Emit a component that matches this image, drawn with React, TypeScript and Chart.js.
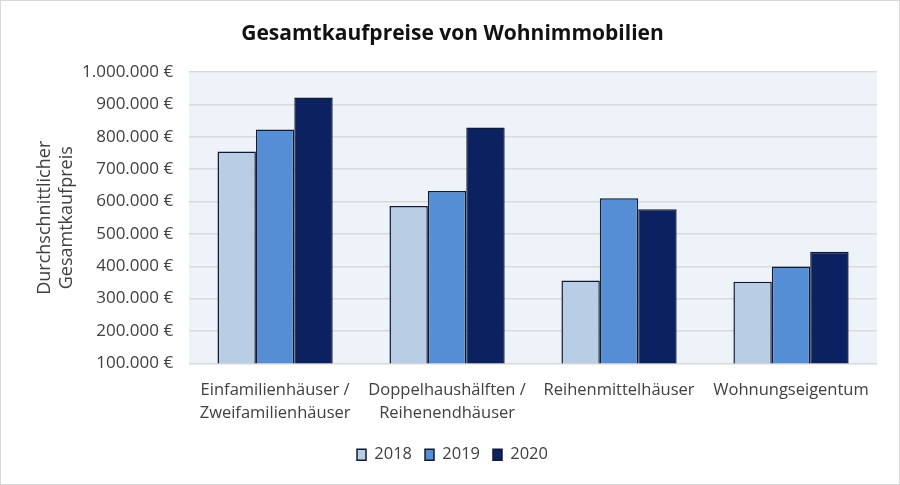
import { useRef, useEffect } from 'react'
import { Chart, registerables } from 'chart.js'

Chart.register(...registerables)

const categories = [
  ['Einfamilienhäuser /', 'Zweifamilienhäuser'],
  ['Doppelhaushälften /', 'Reihenendhäuser'],
  ['Reihenmittelhäuser'],
  ['Wohnungseigentum'],
]
const years = ['2018', '2019', '2020']
const values2018 = [755000, 586000, 356000, 352000]
const values2019 = [823000, 633000, 610000, 399000]
const values2020 = [922000, 829000, 576000, 445000]
const colors = ['#b9cde5', '#558ed5', '#0c2160']

const FONT = "'Open Sans', 'Noto Sans', sans-serif"

const plotBackground = {
  id: 'plotBackground',
  beforeDraw(chart: Chart) {
    const { ctx, chartArea } = chart
    ctx.save()
    ctx.fillStyle = '#eef3f9'
    ctx.fillRect(chartArea.left, chartArea.top, chartArea.right - chartArea.left, chartArea.bottom - chartArea.top)
    ctx.restore()
  },
}

export default function App() {
  const canvasRef = useRef<HTMLCanvasElement>(null)

  useEffect(() => {
    if (!canvasRef.current) return
    const ctx = canvasRef.current.getContext('2d')
    if (!ctx) return

    const series = [values2018, values2019, values2020]
    const chart = new Chart(ctx, {
      type: 'bar',
      data: {
        labels: categories,
        datasets: series.map((data, i) => ({
          label: years[i],
          data,
          backgroundColor: colors[i],
          borderColor: '#111a33',
          borderWidth: 1.5,
          borderSkipped: 'bottom' as const,
          categoryPercentage: 0.67,
          barPercentage: 1,
        })),
      },
      options: {
        animation: false,
        responsive: false,
        maintainAspectRatio: false,
        layout: { padding: { left: 27, right: 22, top: 0, bottom: 11 } },
        plugins: {
          title: {
            display: true,
            text: 'Gesamtkaufpreise von Wohnimmobilien',
            color: '#111111',
            font: { family: FONT, size: 21, weight: 'bold' },
            padding: { top: 20, bottom: 26 },
          },
          legend: {
            position: 'bottom',
            labels: {
              color: '#404040',
              font: { family: FONT, size: 16.5 },
              boxWidth: 9,
              boxHeight: 11,
              padding: 13,
            },
          },
          tooltip: { enabled: false },
        },
        scales: {
          x: {
            grid: { display: false },
            border: { display: false },
            afterFit: (scale) => { scale.height += 2 },
            ticks: {
              color: '#404040',
              font: { family: FONT, size: 16.5, lineHeight: 1.4 },
              maxRotation: 0,
              autoSkip: false,
              padding: 7,
            },
          },
          y: {
            min: 100000,
            max: 1000000,
            grid: { color: '#d9d9d9', lineWidth: 1.5, drawTicks: false },
            border: { display: false },
            ticks: {
              stepSize: 100000,
              color: '#404040',
              padding: 16,
              font: { family: FONT, size: 17 },
              callback: (v) => Number(v).toLocaleString('de-DE') + ' €',
            },
            title: {
              display: true,
              text: ['Durchschnittlicher', 'Gesamtkaufpreis'],
              color: '#404040',
              font: { family: FONT, size: 18, lineHeight: 1.25 },
              padding: { top: 5.5, bottom: -12.5 },
            },
          },
        },
      },
      plugins: [plotBackground],
    })

    return () => { chart.destroy() }
  }, [])

  return (
    <div style={{ position: 'absolute', left: 0, top: 0, width: 900, height: 485, background: '#fff', border: '1px solid #d9d9d9', boxSizing: 'border-box' }}>
      <canvas ref={canvasRef} width={898} height={483} />
    </div>
  )
}
